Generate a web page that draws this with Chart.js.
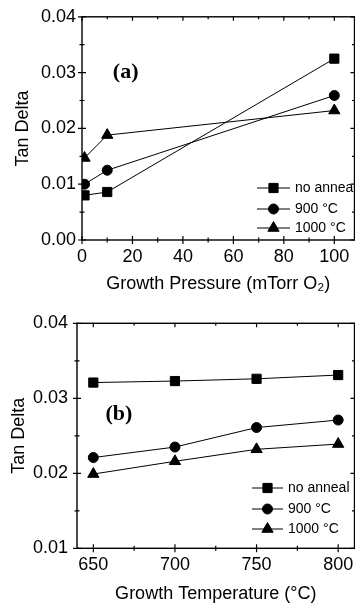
<!DOCTYPE html>
<html>
<head>
<meta charset="utf-8">
<script src="https://cdn.jsdelivr.net/npm/chart.js@4/dist/chart.umd.min.js"></script>
<style>
  html, body { margin: 0; padding: 0; background: #fff; }
  body { width: 355px; height: 605px; overflow: hidden; }
  canvas { display: block; }
</style>
</head>
<body>
<canvas id="chartA" width="362" height="300"></canvas>
<canvas id="chartB" width="362" height="305"></canvas>
<script>
// (a) tan delta vs growth pressure
const pressure = [1, 10, 100];
const pressNoAnneal = [0.0080, 0.0086, 0.0325];
const press900 = [0.0100, 0.0125, 0.0259];
const press1000 = [0.0147, 0.0188, 0.0232];

// (b) tan delta vs growth temperature
const temps = [650, 700, 750, 800];
const tempNoAnneal = [0.0321, 0.0323, 0.0326, 0.0331];
const temp900 = [0.0221, 0.0235, 0.0261, 0.0271];
const temp1000 = [0.0199, 0.0216, 0.0232, 0.0239];

const seriesLabels = ["no anneal", "900 °C", "1000 °C"];
const seriesStyles = ["rect", "circle", "triangle"];
const seriesRadius = [6.5, 5, 6.5];

const pressTicks = [0, 20, 40, 60, 80, 100];
const pressMinor = [10, 30, 50, 70, 90];
const tanTicksA = [0, 0.01, 0.02, 0.03, 0.04];
const tanMinorA = [0.005, 0.015, 0.025, 0.035];
const tempTicks = [650, 700, 750, 800];
const tempMinor = [675, 725, 775];
const tanTicksB = [0.01, 0.02, 0.03, 0.04];
const tanMinorB = [0.015, 0.025, 0.035];

const FONT = "'Liberation Sans', Arial, sans-serif";

function makeSets(xs, ys) {
    return ys.map(function(vals, i){
        return {
            label: seriesLabels[i],
            data: xs.map(function(x, j){ return {x: x, y: vals[j]} }),
            borderColor: "#000",
            backgroundColor: "#000",
            borderWidth: 1,
            pointStyle: seriesStyles[i],
            pointRadius: seriesRadius[i],
            pointBorderWidth: 1,
            tension: 0
        }
    })
}

// frame, ticks in/out, legend and panel letter
const framePlugin = {
    id: "frame",
    afterDraw(chart, args, o) {
        const ctx = chart.ctx
        const a = chart.chartArea
        const xs = chart.scales.x, ys = chart.scales.y
        ctx.save()
        ctx.strokeStyle = "#000"
        ctx.lineWidth = 1.4
        ctx.strokeRect(a.left, a.top, a.right - a.left, a.bottom - a.top)

        ctx.lineWidth = 1.2
        ctx.beginPath()
        o.xMajor.forEach(function(v){
            const p = xs.getPixelForValue(v)
            ctx.moveTo(p, a.bottom - 4); ctx.lineTo(p, a.bottom + 4)
            ctx.moveTo(p, a.top); ctx.lineTo(p, a.top + 4)
        })
        o.xMinor.forEach(function(v){
            const p = xs.getPixelForValue(v)
            ctx.moveTo(p, a.bottom - 2.5); ctx.lineTo(p, a.bottom + 2.5)
            ctx.moveTo(p, a.top); ctx.lineTo(p, a.top + 2.5)
        })
        o.yMajor.forEach(function(v){
            const p = ys.getPixelForValue(v)
            ctx.moveTo(a.left - 4, p); ctx.lineTo(a.left + 4, p)
            ctx.moveTo(a.right - 4, p); ctx.lineTo(a.right, p)
        })
        o.yMinor.forEach(function(v){
            const p = ys.getPixelForValue(v)
            ctx.moveTo(a.left - 2.5, p); ctx.lineTo(a.left + 2.5, p)
            ctx.moveTo(a.right - 2.5, p); ctx.lineTo(a.right, p)
        })
        ctx.stroke()

        // legend
        ctx.lineWidth = 1
        ctx.fillStyle = "#000"
        ctx.font = "14px " + FONT
        ctx.textBaseline = "middle"
        ctx.textAlign = "left"
        chart.data.datasets.forEach(function(ds, i){
            const y = o.legendY[i]
            ctx.beginPath()
            ctx.moveTo(o.legendX[0], y); ctx.lineTo(o.legendX[1], y)
            ctx.stroke()
            const mx = (o.legendX[0] + o.legendX[1]) / 2
            Chart.helpers.drawPoint(ctx, {pointStyle: ds.pointStyle, radius: ds.pointRadius, borderWidth: 1, rotation: 0}, mx, y)
            ctx.fillText(ds.label, o.legendX[1] + 5, y)
        })

        // panel letter
        ctx.font = "bold 22px 'Liberation Serif', 'Times New Roman', serif"
        ctx.textAlign = "center"
        ctx.fillText(o.letter, xs.getPixelForValue(o.letterAt[0]), ys.getPixelForValue(o.letterAt[1]))
        ctx.restore()
    }
}

function axisX(min, max, ticks, title, titlePad, height) {
    return {
        type: "linear", min: min, max: max,
        afterBuildTicks: function(s){ s.ticks = ticks.map(function(v){ return {value: v} }) },
        afterFit: function(s){ s.height = height },
        grid: {display: false, drawTicks: false},
        border: {display: false},
        ticks: {padding: 6, color: "#000", font: {family: FONT, size: 18}, maxRotation: 0, autoSkip: false,
                callback: function(v){ return String(v) }},
        title: {display: true, text: title, color: "#000", font: {family: FONT, size: 18}, padding: {top: 0, bottom: titlePad}}
    }
}

function axisY(min, max, ticks, width, tickPad, titlePad) {
    return {
        type: "linear", min: min, max: max,
        afterBuildTicks: function(s){ s.ticks = ticks.map(function(v){ return {value: v} }) },
        afterFit: function(s){ s.width = width },
        grid: {display: false, drawTicks: false},
        border: {display: false},
        ticks: {padding: tickPad, color: "#000", font: {family: FONT, size: 18}, autoSkip: false,
                callback: function(v){ return Number(v).toFixed(2) }},
        title: {display: true, text: "Tan Delta", color: "#000", font: {family: FONT, size: 18}, padding: {top: titlePad, bottom: 0}}
    }
}

new Chart(document.getElementById("chartA"), {
    type: "line",
    data: {datasets: makeSets(pressure, [pressNoAnneal, press900, press1000])},
    options: {
        responsive: false, animation: false,
        layout: {padding: {left: 0, top: 16, right: 6, bottom: 0}},
        scales: {
            x: axisX(0, 108, pressTicks, "Growth Pressure (mTorr O\u2082)", 5, 60),
            y: axisY(0, 0.04, tanTicksA, 82, 6, 12)
        },
        plugins: {
            legend: {display: false}, tooltip: {enabled: false},
            frame: {xMajor: pressTicks, xMinor: pressMinor, yMajor: tanTicksA, yMinor: tanMinorA,
                    legendX: [257, 290], legendY: [188, 209, 228], letter: "(a)", letterAt: [17.3, 0.0300]}
        }
    },
    plugins: [framePlugin]
})

new Chart(document.getElementById("chartB"), {
    type: "line",
    data: {datasets: makeSets(temps, [tempNoAnneal, temp900, temp1000])},
    options: {
        responsive: false, animation: false,
        layout: {padding: {left: 0, top: 23.3, right: 6, bottom: 0}},
        scales: {
            x: axisX(640, 810, tempTicks, "Growth Temperature (°C)", 0, 56.7),
            y: axisY(0.01, 0.04, tanTicksB, 77, 9, 8)
        },
        plugins: {
            legend: {display: false}, tooltip: {enabled: false},
            frame: {xMajor: tempTicks, xMinor: tempMinor, yMajor: tanTicksB, yMinor: tanMinorB,
                    legendX: [252, 283], legendY: [188, 209, 229], letter: "(b)", letterAt: [665.7, 0.0278]}
        }
    },
    plugins: [framePlugin]
})
</script>
</body>
</html>
